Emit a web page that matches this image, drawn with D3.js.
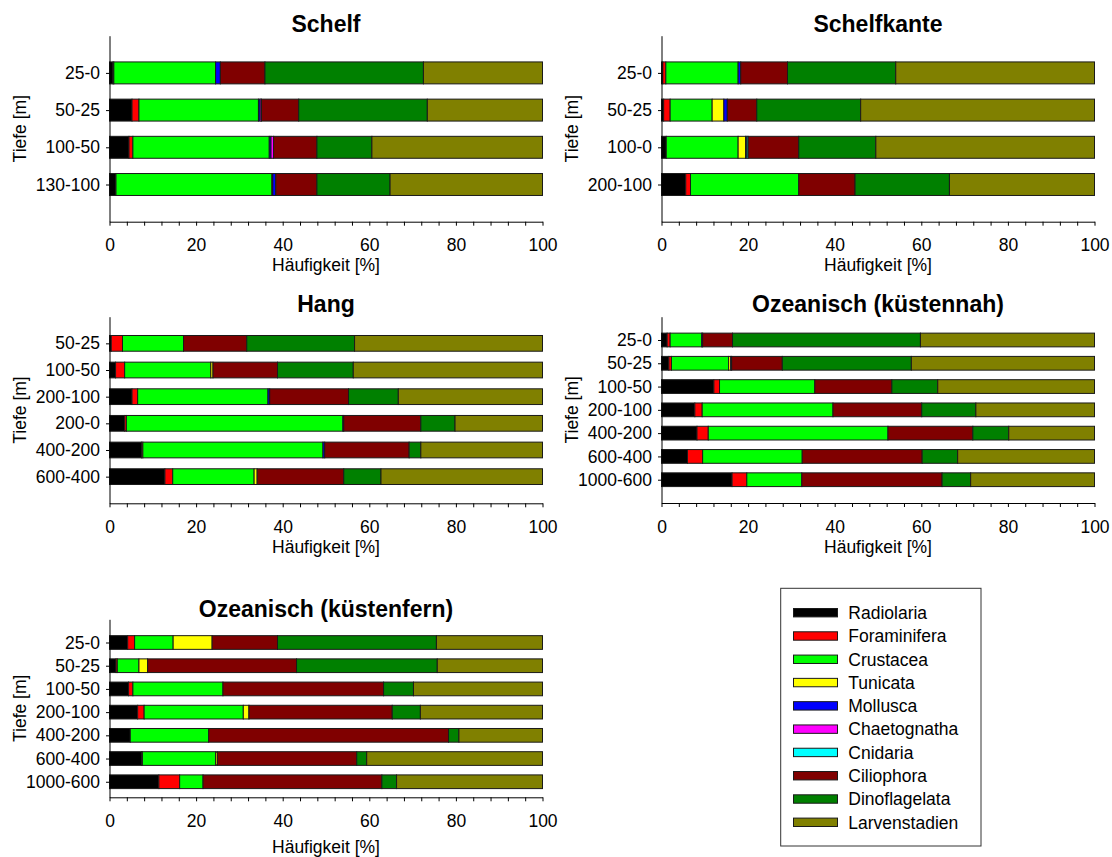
<!DOCTYPE html>
<html>
<head>
<meta charset="utf-8">
<script src="https://cdn.jsdelivr.net/npm/d3@7/dist/d3.min.js"></script>
<style>
  html, body { margin: 0; padding: 0; background: #fff; }
  svg { display: block; font-family: "Liberation Sans", Arial, sans-serif; }
</style>
</head>
<body>
<svg id="chart" width="1112" height="857"></svg>
<script>
// ---------- DATA ----------
const seriesNames = ["Radiolaria", "Foraminifera", "Crustacea", "Tunicata", "Mollusca",
  "Chaetognatha", "Cnidaria", "Ciliophora", "Dinoflagelata", "Larvenstadien"];
const seriesColors = ["#000000", "#ff0000", "#00ff00", "#ffff00", "#0000ff",
  "#ff00ff", "#00ffff", "#800000", "#008000", "#808000"];
const xTickValues = [0, 20, 40, 60, 80, 100];

const panelTitles = ["Schelf", "Schelfkante", "Hang", "Ozeanisch (küstennah)", "Ozeanisch (küstenfern)"];

// values per depth class, in the order of seriesNames (percent)
const schelfDepths = ["25-0", "50-25", "100-50", "130-100"];
const schelfValues = [
  [0.8, 0.2, 23.5, 0, 1.1, 0, 0, 10.3, 36.6, 27.5],
  [5.2, 1.6, 27.6, 0, 0.4, 0.3, 0, 8.6, 29.7, 26.6],
  [4.5, 0.9, 31.5, 0, 0.4, 0.6, 0, 10.0, 12.7, 39.4],
  [1.4, 0.1, 36.0, 0.2, 0.7, 0, 0, 9.5, 16.9, 35.2]
];

const schelfkanteDepths = ["25-0", "50-25", "100-0", "200-100"];
const schelfkanteValues = [
  [0.3, 0.7, 16.7, 0, 0.6, 0, 0, 10.8, 25.0, 45.9],
  [0.5, 1.5, 9.7, 2.7, 0.8, 0, 0, 6.8, 24.0, 54.0],
  [1.1, 0, 16.6, 1.7, 0.3, 0, 0.3, 11.7, 17.8, 50.5],
  [5.6, 1.1, 25.0, 0, 0, 0, 0, 13.0, 21.8, 33.5]
];

const hangDepths = ["50-25", "100-50", "200-100", "200-0", "400-200", "600-400"];
const hangValues = [
  [0.4, 2.6, 14.1, 0, 0, 0, 0, 14.6, 24.9, 43.4],
  [1.4, 2.1, 19.9, 0.5, 0, 0, 0, 14.9, 17.5, 43.7],
  [5.2, 1.3, 30.1, 0, 0.4, 0, 0, 18.2, 11.5, 33.3],
  [3.5, 0.4, 50.0, 0, 0.2, 0, 0, 17.8, 7.9, 20.2],
  [7.4, 0.3, 41.6, 0, 0.4, 0, 0, 19.5, 2.7, 28.1],
  [12.8, 1.8, 18.8, 0.7, 0, 0, 0, 20.0, 8.6, 37.3]
];

const nahDepths = ["25-0", "50-25", "100-50", "200-100", "400-200", "600-400", "1000-600"];
const nahValues = [
  [1.3, 0.7, 7.3, 0, 0.2, 0, 0, 6.9, 43.4, 40.2],
  [1.7, 0.6, 13.2, 0.5, 0.2, 0, 0, 11.7, 29.8, 42.3],
  [12.1, 1.3, 22.0, 0, 0, 0, 0, 17.8, 10.6, 36.2],
  [7.7, 1.7, 30.2, 0, 0, 0, 0, 20.5, 12.5, 27.4],
  [8.2, 2.6, 41.5, 0, 0, 0, 0, 19.6, 8.3, 19.8],
  [6.0, 3.5, 23.0, 0, 0, 0, 0, 27.7, 8.2, 31.6],
  [16.3, 3.4, 12.7, 0, 0, 0, 0, 32.4, 6.6, 28.6]
];

const fernDepths = ["25-0", "50-25", "100-50", "200-100", "400-200", "600-400", "1000-600"];
const fernValues = [
  [4.2, 1.6, 8.9, 9.0, 0, 0, 0, 15.1, 36.7, 24.5],
  [1.5, 0.3, 5.0, 2.0, 0, 0, 0, 34.4, 32.5, 24.3],
  [4.4, 1.0, 20.8, 0, 0, 0, 0, 37.1, 6.9, 29.8],
  [6.5, 1.5, 22.9, 1.3, 0, 0, 0, 33.1, 6.5, 28.2],
  [4.8, 0, 18.1, 0, 0, 0, 0, 55.4, 2.4, 19.3],
  [7.4, 0.2, 16.9, 0.4, 0, 0, 0, 32.2, 2.3, 40.6],
  [11.4, 4.8, 5.4, 0, 0, 0, 0, 41.3, 3.4, 33.7]
];

// ---------- LAYOUT ----------
const panels = [
  { title: panelTitles[0], depths: schelfDepths, values: schelfValues,
    x0: 109.5, x1: 542.5, yTop: 35.7, yBot: 221.7, dMax: 5, titleY: 23.3, labelOff: 42.8, yLabelX: 20 },
  { title: panelTitles[1], depths: schelfkanteDepths, values: schelfkanteValues,
    x0: 661.5, x1: 1094.5, yTop: 35.7, yBot: 221.7, dMax: 5, titleY: 23.3, labelOff: 42.8, yLabelX: 572 },
  { title: panelTitles[2], depths: hangDepths, values: hangValues,
    x0: 109.5, x1: 542.5, yTop: 316.7, yBot: 503.3, dMax: 7, titleY: 303.5, labelOff: 43.2, yLabelX: 20 },
  { title: panelTitles[3], depths: nahDepths, values: nahValues,
    x0: 661.5, x1: 1094.5, yTop: 316.7, yBot: 503.0, dMax: 8, titleY: 303.5, labelOff: 43.2, yLabelX: 572 },
  { title: panelTitles[4], depths: fernDepths, values: fernValues,
    x0: 109.5, x1: 542.5, yTop: 619.3, yBot: 797.3, dMax: 7.67, titleY: 608.3, labelOff: 49, yLabelX: 20 }
];

const svg = d3.select("#chart");
const FS = 17.5;
const FONT = '"Liberation Sans", Arial, sans-serif';

panels.forEach(p => {
  const g = svg.append("g");
  const x = d3.scaleLinear().domain([0, 100]).range([p.x0, p.x1]);
  const y = d3.scaleLinear().domain([0, p.dMax]).range([p.yTop, p.yBot]);
  const spacing = y(1) - y(0);
  const bh = spacing * 0.59;

  // stacked data
  const rows = p.values.map((vals, i) => {
    let acc = 0;
    return vals.map((v, k) => {
      const seg = { row: i, k, start: acc, end: acc + v };
      acc += v;
      return seg;
    });
  });

  rows.forEach(segs => {
    g.selectAll(null)
      .data(segs.filter(s => s.end > s.start))
      .enter().append("rect")
      .attr("x", d => x(d.start))
      .attr("y", d => y(d.row + 1) - bh / 2)
      .attr("width", d => Math.max(0, x(d.end) - x(d.start)))
      .attr("height", bh)
      .attr("fill", d => seriesColors[d.k])
      .attr("stroke", "#1a1a1a")
      .attr("stroke-width", 1);
  });

  // x axis
  const xAxis = d3.axisBottom(x)
    .tickValues(d3.range(0, 101, 4))
    .tickFormat(d => xTickValues.includes(d) ? d : "")
    .tickSize(4)
    .tickSizeOuter(0)
    .tickPadding(13.2);
  const gx = g.append("g").attr("transform", `translate(0,${p.yBot})`).call(xAxis);
  gx.attr("font-family", FONT).attr("font-size", FS);
  gx.selectAll("path, line").attr("stroke", "#000").attr("stroke-width", 1);
  gx.selectAll("text").attr("fill", "#000");

  // y axis
  const yAxis = d3.axisLeft(y)
    .tickValues(d3.range(1, p.depths.length + 1))
    .tickFormat(i => p.depths[i - 1])
    .tickSize(3.5)
    .tickSizeOuter(0)
    .tickPadding(6);
  const gy = g.append("g").attr("transform", `translate(${p.x0},0)`).call(yAxis);
  gy.attr("font-family", FONT).attr("font-size", FS);
  gy.selectAll("path, line").attr("stroke", "#000").attr("stroke-width", 1);
  gy.selectAll("text").attr("fill", "#000");

  // title
  g.append("text")
    .attr("x", (p.x0 + p.x1) / 2)
    .attr("y", p.titleY)
    .attr("dy", "0.36em")
    .attr("text-anchor", "middle")
    .attr("font-family", FONT)
    .attr("font-weight", "bold")
    .attr("font-size", 23)
    .text(p.title);

  // x axis label
  g.append("text")
    .attr("x", (p.x0 + p.x1) / 2)
    .attr("y", p.yBot + p.labelOff)
    .attr("dy", "0.36em")
    .attr("text-anchor", "middle")
    .attr("font-family", FONT)
    .attr("font-size", FS)
    .text("Häufigkeit [%]");

  // y axis label
  const cy = (p.yTop + p.yBot) / 2;
  g.append("text")
    .attr("transform", `translate(${p.yLabelX},${cy}) rotate(-90)`)
    .attr("dy", "0.36em")
    .attr("text-anchor", "middle")
    .attr("font-family", FONT)
    .attr("font-size", FS)
    .text("Tiefe [m]");
});

// ---------- LEGEND ----------
const lg = svg.append("g");
lg.append("rect")
  .attr("x", 780.7).attr("y", 588.3)
  .attr("width", 200.3).attr("height", 257.7)
  .attr("fill", "#fff").attr("stroke", "#333").attr("stroke-width", 1);

const ly = d3.scaleLinear().domain([0, 9]).range([612.7, 822.3]);
const items = lg.selectAll("g.item").data(seriesNames).enter().append("g");
items.append("rect")
  .attr("x", 793.5)
  .attr("y", (d, i) => ly(i) - 4.2)
  .attr("width", 44)
  .attr("height", 8.4)
  .attr("fill", (d, i) => seriesColors[i])
  .attr("stroke", "#1a1a1a")
  .attr("stroke-width", 1);
items.append("text")
  .attr("x", 848.3)
  .attr("y", (d, i) => ly(i))
  .attr("dy", "0.36em")
  .attr("font-family", FONT)
  .attr("font-size", FS)
  .text(d => d);
</script>
</body>
</html>
